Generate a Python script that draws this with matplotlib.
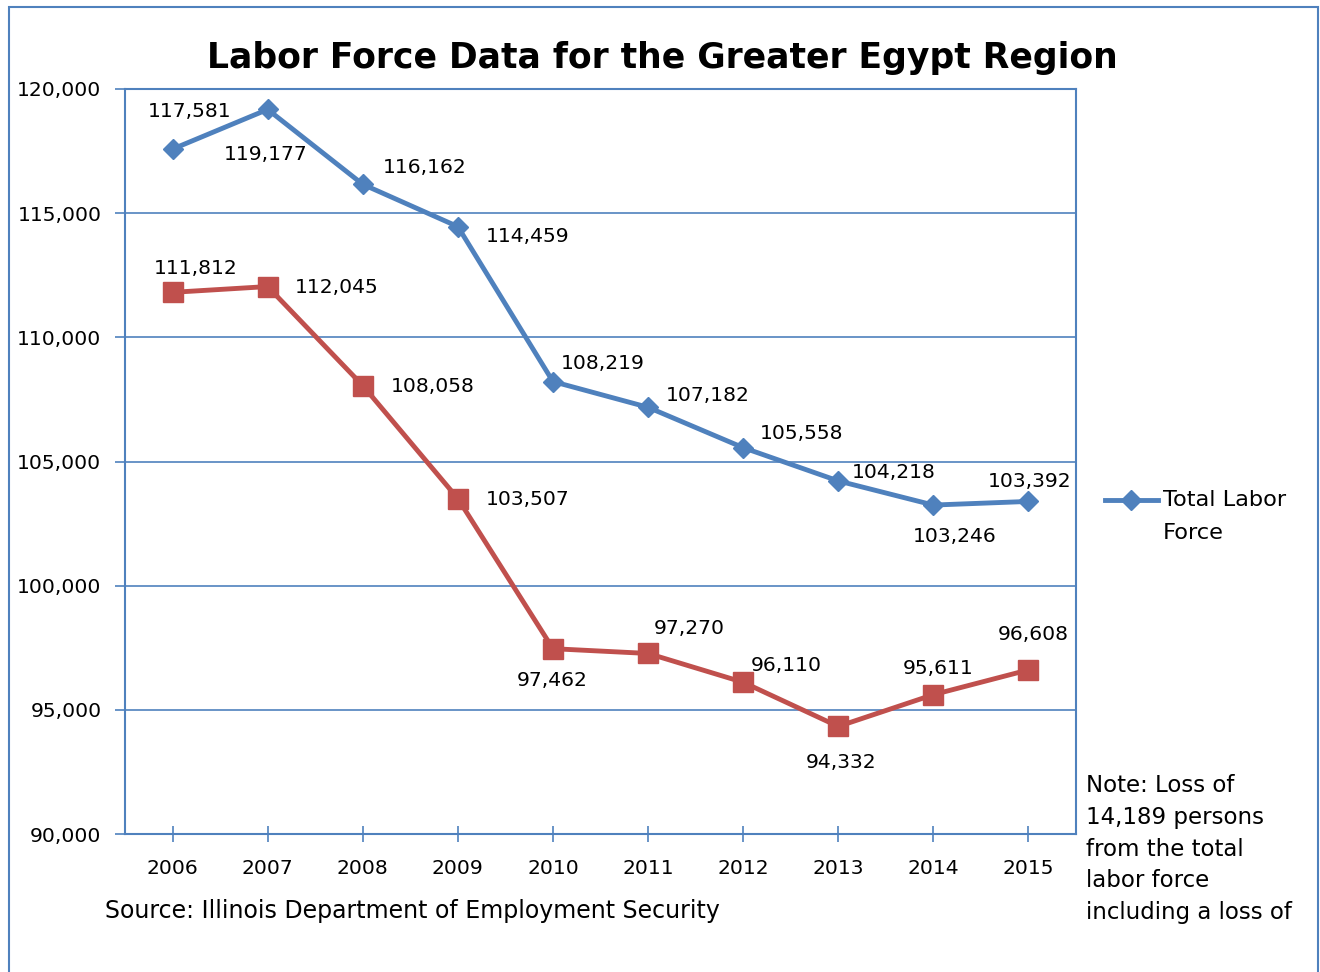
import matplotlib.pyplot as plt
from matplotlib.lines import Line2D
from matplotlib.patches import Rectangle
from matplotlib.ticker import FuncFormatter

plt.rcParams['font.family'] = ['DejaVu Sans']

years = ['2006', '2007', '2008', '2009', '2010', '2011', '2012', '2013', '2014', '2015']
total_labor = [117581, 119177, 116162, 114459, 108219, 107182, 105558, 104218, 103246, 103392]
employed = [111812, 112045, 108058, 103507, 97462, 97270, 96110, 94332, 95611, 96608]

# label offsets in pixels (dx, dy), dy up
blue_offsets = [(17, 38), (-2, -45), (62, 17), (70, -10), (50, 18),
                (60, 12), (58, 14), (56, 8), (21, -31), (1, 20)]
red_offsets = [(23, 24), (69, -1), (70, -1), (70, -1), (-1, -32),
               (41, 25), (43, 17), (3, -36), (5, 26), (5, 35)]

blue = '#4F81BD'
red = '#C0504D'

fig = plt.figure(figsize=(13.2, 9.72), dpi=100)
fig.patch.set_facecolor('white')
ax = fig.add_axes([125 / 1320, 1 - 834 / 972, 951 / 1320, 745 / 972])

x = list(range(len(years)))
ax.plot(x, total_labor, color=blue, lw=3.5, marker='D', ms=10, zorder=3)
ax.plot(x, employed, color=red, lw=3.5, marker='s', ms=14, zorder=3)

for i, v in enumerate(total_labor):
    ax.annotate(f'{v:,}', (i, v), xytext=blue_offsets[i], textcoords='offset pixels',
                ha='center', va='center', fontsize=14.6, color='black')
for i, v in enumerate(employed):
    ax.annotate(f'{v:,}', (i, v), xytext=red_offsets[i], textcoords='offset pixels',
                ha='center', va='center', fontsize=14.6, color='black')

ax.set_xlim(-0.5, len(years) - 0.5)
ax.set_ylim(90000, 120000)
ax.set_yticks(range(90000, 120001, 5000))
ax.yaxis.set_major_formatter(FuncFormatter(lambda v, p: f'{int(v):,}'))
ax.set_xticks(x)
ax.set_xticklabels(years)
ax.yaxis.grid(True, color=blue, lw=1.2)
ax.set_axisbelow(True)
for s in ax.spines.values():
    s.set_color(blue)
    s.set_linewidth(1.5)
ax.tick_params(axis='y', colors=blue, length=7, width=1.2, pad=10, labelsize=14.6, labelcolor='black')
ax.tick_params(axis='x', colors=blue, direction='inout', length=12, width=1.2, pad=12,
               labelsize=14.6, labelcolor='black')

fig.text(0.502, 1 - 58 / 972, 'Labor Force Data for the Greater Egypt Region',
         ha='center', va='center', fontsize=24.9, fontweight='bold')
fig.text(105 / 1320, 1 - 911 / 972, 'Source: Illinois Department of Employment Security',
         ha='left', va='center', fontsize=17)

# legend
ly = 1 - 500 / 972
fig.add_artist(Line2D([1105 / 1320, 1158 / 1320], [ly, ly], color=blue, lw=3.5,
                      transform=fig.transFigure))
fig.add_artist(Line2D([1131 / 1320], [ly], color=blue, marker='D', ms=10,
                      transform=fig.transFigure))
fig.text(1163 / 1320, ly, 'Total Labor', ha='left', va='center', fontsize=16.2)
fig.text(1163 / 1320, 1 - 533 / 972, 'Force', ha='left', va='center', fontsize=16.2)

note = 'Note: Loss of\n14,189 persons\nfrom the total\nlabor force\nincluding a loss of'
fig.text(1086 / 1320, 1 - 774 / 972, note, ha='left', va='top', fontsize=16.5, linespacing=1.49)

# chart border
fig.add_artist(Rectangle((9 / 1320, -0.05), (1318 - 9) / 1320, 1.05 - 7 / 972,
                         fill=False, edgecolor=blue, lw=1.5, transform=fig.transFigure))

fig.savefig('out.png', dpi=100)
